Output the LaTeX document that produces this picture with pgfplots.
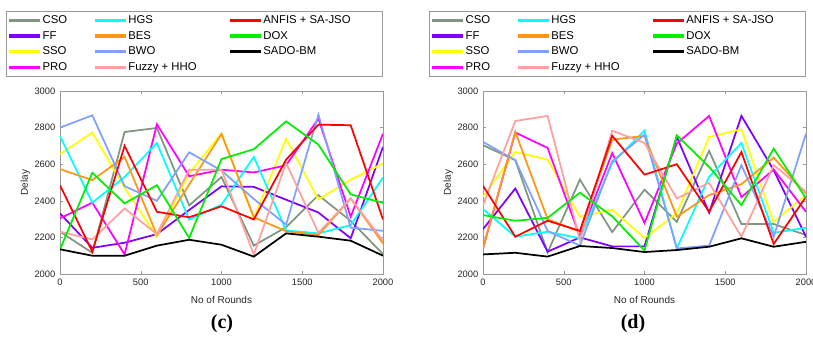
\documentclass[border=0pt]{standalone}
\usepackage{pgfplots}
\pgfplotsset{compat=1.18}
\usepackage{pgfplotstable}
\usepackage{fontspec}
\setmainfont{Liberation Sans}
\newfontfamily\capfont{Liberation Serif}

\definecolor{cCSO}{RGB}{128,150,128}
\definecolor{cFF}{RGB}{128,0,255}
\definecolor{cSSO}{RGB}{255,255,0}
\definecolor{cPRO}{RGB}{255,0,255}
\definecolor{cHGS}{RGB}{0,255,255}
\definecolor{cBES}{RGB}{255,150,20}
\definecolor{cBWO}{RGB}{128,160,255}
\definecolor{cFUZ}{RGB}{255,160,160}
\definecolor{cANF}{RGB}{255,0,0}
\definecolor{cDOX}{RGB}{0,240,0}
\definecolor{cSADO}{RGB}{0,0,0}

\pgfplotstableread{
x    CSO  FF   SSO  PRO  HGS  BES  BWO  FUZ  ANF  DOX  SADO
0    2231 2331 2655 2304 2753 2573 2800 2231 2485 2135 2135
200  2116 2143 2773 2390 2390 2513 2867 2189 2122 2553 2100
400  2776 2171 2470 2107 2530 2640 2480 2358 2700 2386 2100
600  2798 2218 2204 2818 2716 2213 2400 2218 2340 2485 2155
800  2375 2350 2550 2534 2297 2489 2665 2570 2310 2197 2187
1000 2530 2479 2768 2570 2379 2765 2565 2570 2370 2628 2160
1200 2155 2476 2305 2555 2640 2310 2410 2106 2298 2682 2095
1400 2256 2406 2740 2594 2238 2234 2270 2607 2625 2834 2222
1600 2431 2336 2407 2849 2222 2213 2871 2225 2816 2707 2204
1800 2290 2195 2516 2313 2267 2413 2253 2413 2813 2435 2182
2000 2109 2695 2604 2767 2527 2167 2236 2182 2298 2389 2100
}\tableC

\pgfplotstableread{
x    CSO  FF   SSO  PRO  HGS  BES  BWO  FUZ  ANF  DOX  SADO
0    2704 2245 2422 2140 2355 2140 2722 2376 2482 2322 2107
200  2622 2467 2667 2773 2204 2776 2622 2836 2204 2291 2116
400  2118 2122 2625 2689 2231 2300 2235 2864 2291 2307 2095
600  2516 2200 2313 2204 2195 2230 2155 2185 2236 2444 2153
800  2229 2151 2351 2661 2607 2734 2616 2783 2755 2315 2142
1000 2461 2151 2197 2279 2783 2755 2761 2716 2543 2128 2120
1200 2285 2749 2331 2713 2140 2313 2140 2413 2600 2758 2131
1400 2673 2335 2749 2864 2531 2431 2155 2498 2340 2585 2149
1600 2273 2864 2791 2420 2716 2491 2595 2204 2667 2376 2195
1800 2273 2567 2285 2571 2225 2636 2204 2595 2164 2685 2149
2000 2213 2204 2431 2340 2253 2440 2767 2449 2422 2413 2176
}\tableD

\newcommand\drawseries[1]{%
  \addplot[cCSO,forget plot] table[x=x,y=CSO]{#1};
  \addplot[cFF,forget plot] table[x=x,y=FF]{#1};
  \addplot[cSSO,forget plot] table[x=x,y=SSO]{#1};
  \addplot[cPRO,forget plot] table[x=x,y=PRO]{#1};
  \addplot[cHGS,forget plot] table[x=x,y=HGS]{#1};
  \addplot[cBES,forget plot] table[x=x,y=BES]{#1};
  \addplot[cBWO,forget plot] table[x=x,y=BWO]{#1};
  \addplot[cFUZ,forget plot] table[x=x,y=FUZ]{#1};
  \addplot[cANF,forget plot] table[x=x,y=ANF]{#1};
  \addplot[cDOX,forget plot] table[x=x,y=DOX]{#1};
  \addplot[cSADO,forget plot] table[x=x,y=SADO]{#1};
}
\newcommand\mylegend{%
  \addlegendimage{cCSO}\addlegendentry{\makebox[37pt][l]{CSO}}
  \addlegendimage{cHGS}\addlegendentry{\makebox[74pt][l]{HGS}}
  \addlegendimage{cANF}\addlegendentry{\makebox[85.5pt][l]{ANFIS + SA-JSO}}
  \addlegendimage{cFF}\addlegendentry{FF}
  \addlegendimage{cBES}\addlegendentry{BES}
  \addlegendimage{cDOX}\addlegendentry{DOX}
  \addlegendimage{cSSO}\addlegendentry{SSO}
  \addlegendimage{cBWO}\addlegendentry{BWO}
  \addlegendimage{cSADO}\addlegendentry{SADO-BM}
  \addlegendimage{cPRO}\addlegendentry{PRO}
  \addlegendimage{cFUZ}\addlegendentry{Fuzzy + HHO}
}

\pgfplotsset{
  legend image code/.code={\fill[#1] (0pt,-0.65pt) rectangle (22pt,0.65pt);},
  mystyle/.style={
    scale only axis, width=242.25pt, height=137.25pt,
    xmin=0, xmax=2000, ymin=2000, ymax=3000,
    xtick={0,500,1000,1500,2000}, ytick={2000,2200,2400,2600,2800,3000},
    axis line style={black!40}, tick style={black!40},
    major tick length=2.5pt,
    tick label style={font=\fontsize{7}{8}\selectfont, text=black!85},
    /pgf/number format/assume math mode=true,
    /pgf/number format/set thousands separator={},
    xlabel={No of Rounds}, ylabel={Delay},
    ylabel shift=-3.5pt, xlabel shift=1pt,
    label style={font=\fontsize{7.5}{9}\selectfont, text=black!85},
    every axis plot/.append style={line width=1.3pt},
    legend columns=3,
    legend cell align=left,
    legend style={at={(1,1.437)}, anchor=north east, draw=black!40,
      font=\fontsize{8.5}{10}\selectfont,
      inner xsep=2pt, inner ysep=1.75pt, row sep=1.75pt,
      nodes={inner xsep=2pt, inner ysep=0.5pt, text height=7pt, text depth=2pt}},
  }
}

\begin{document}
\begin{tikzpicture}
\useasboundingbox (0,0) rectangle (609.75pt,255pt);
\begin{axis}[mystyle, at={(45pt,49.5pt)}, anchor=south west]
  \drawseries{\tableC}
  \mylegend
\end{axis}
\begin{axis}[mystyle, at={(362.25pt,49.5pt)}, anchor=south west]
  \drawseries{\tableD}
  \mylegend
\end{axis}
\node[font=\capfont\bfseries\fontsize{15}{17}\selectfont] at (166.5pt,12.5pt) {(c)};
\node[font=\capfont\bfseries\fontsize{15}{17}\selectfont] at (474.75pt,12.5pt) {(d)};
\end{tikzpicture}
\end{document}
